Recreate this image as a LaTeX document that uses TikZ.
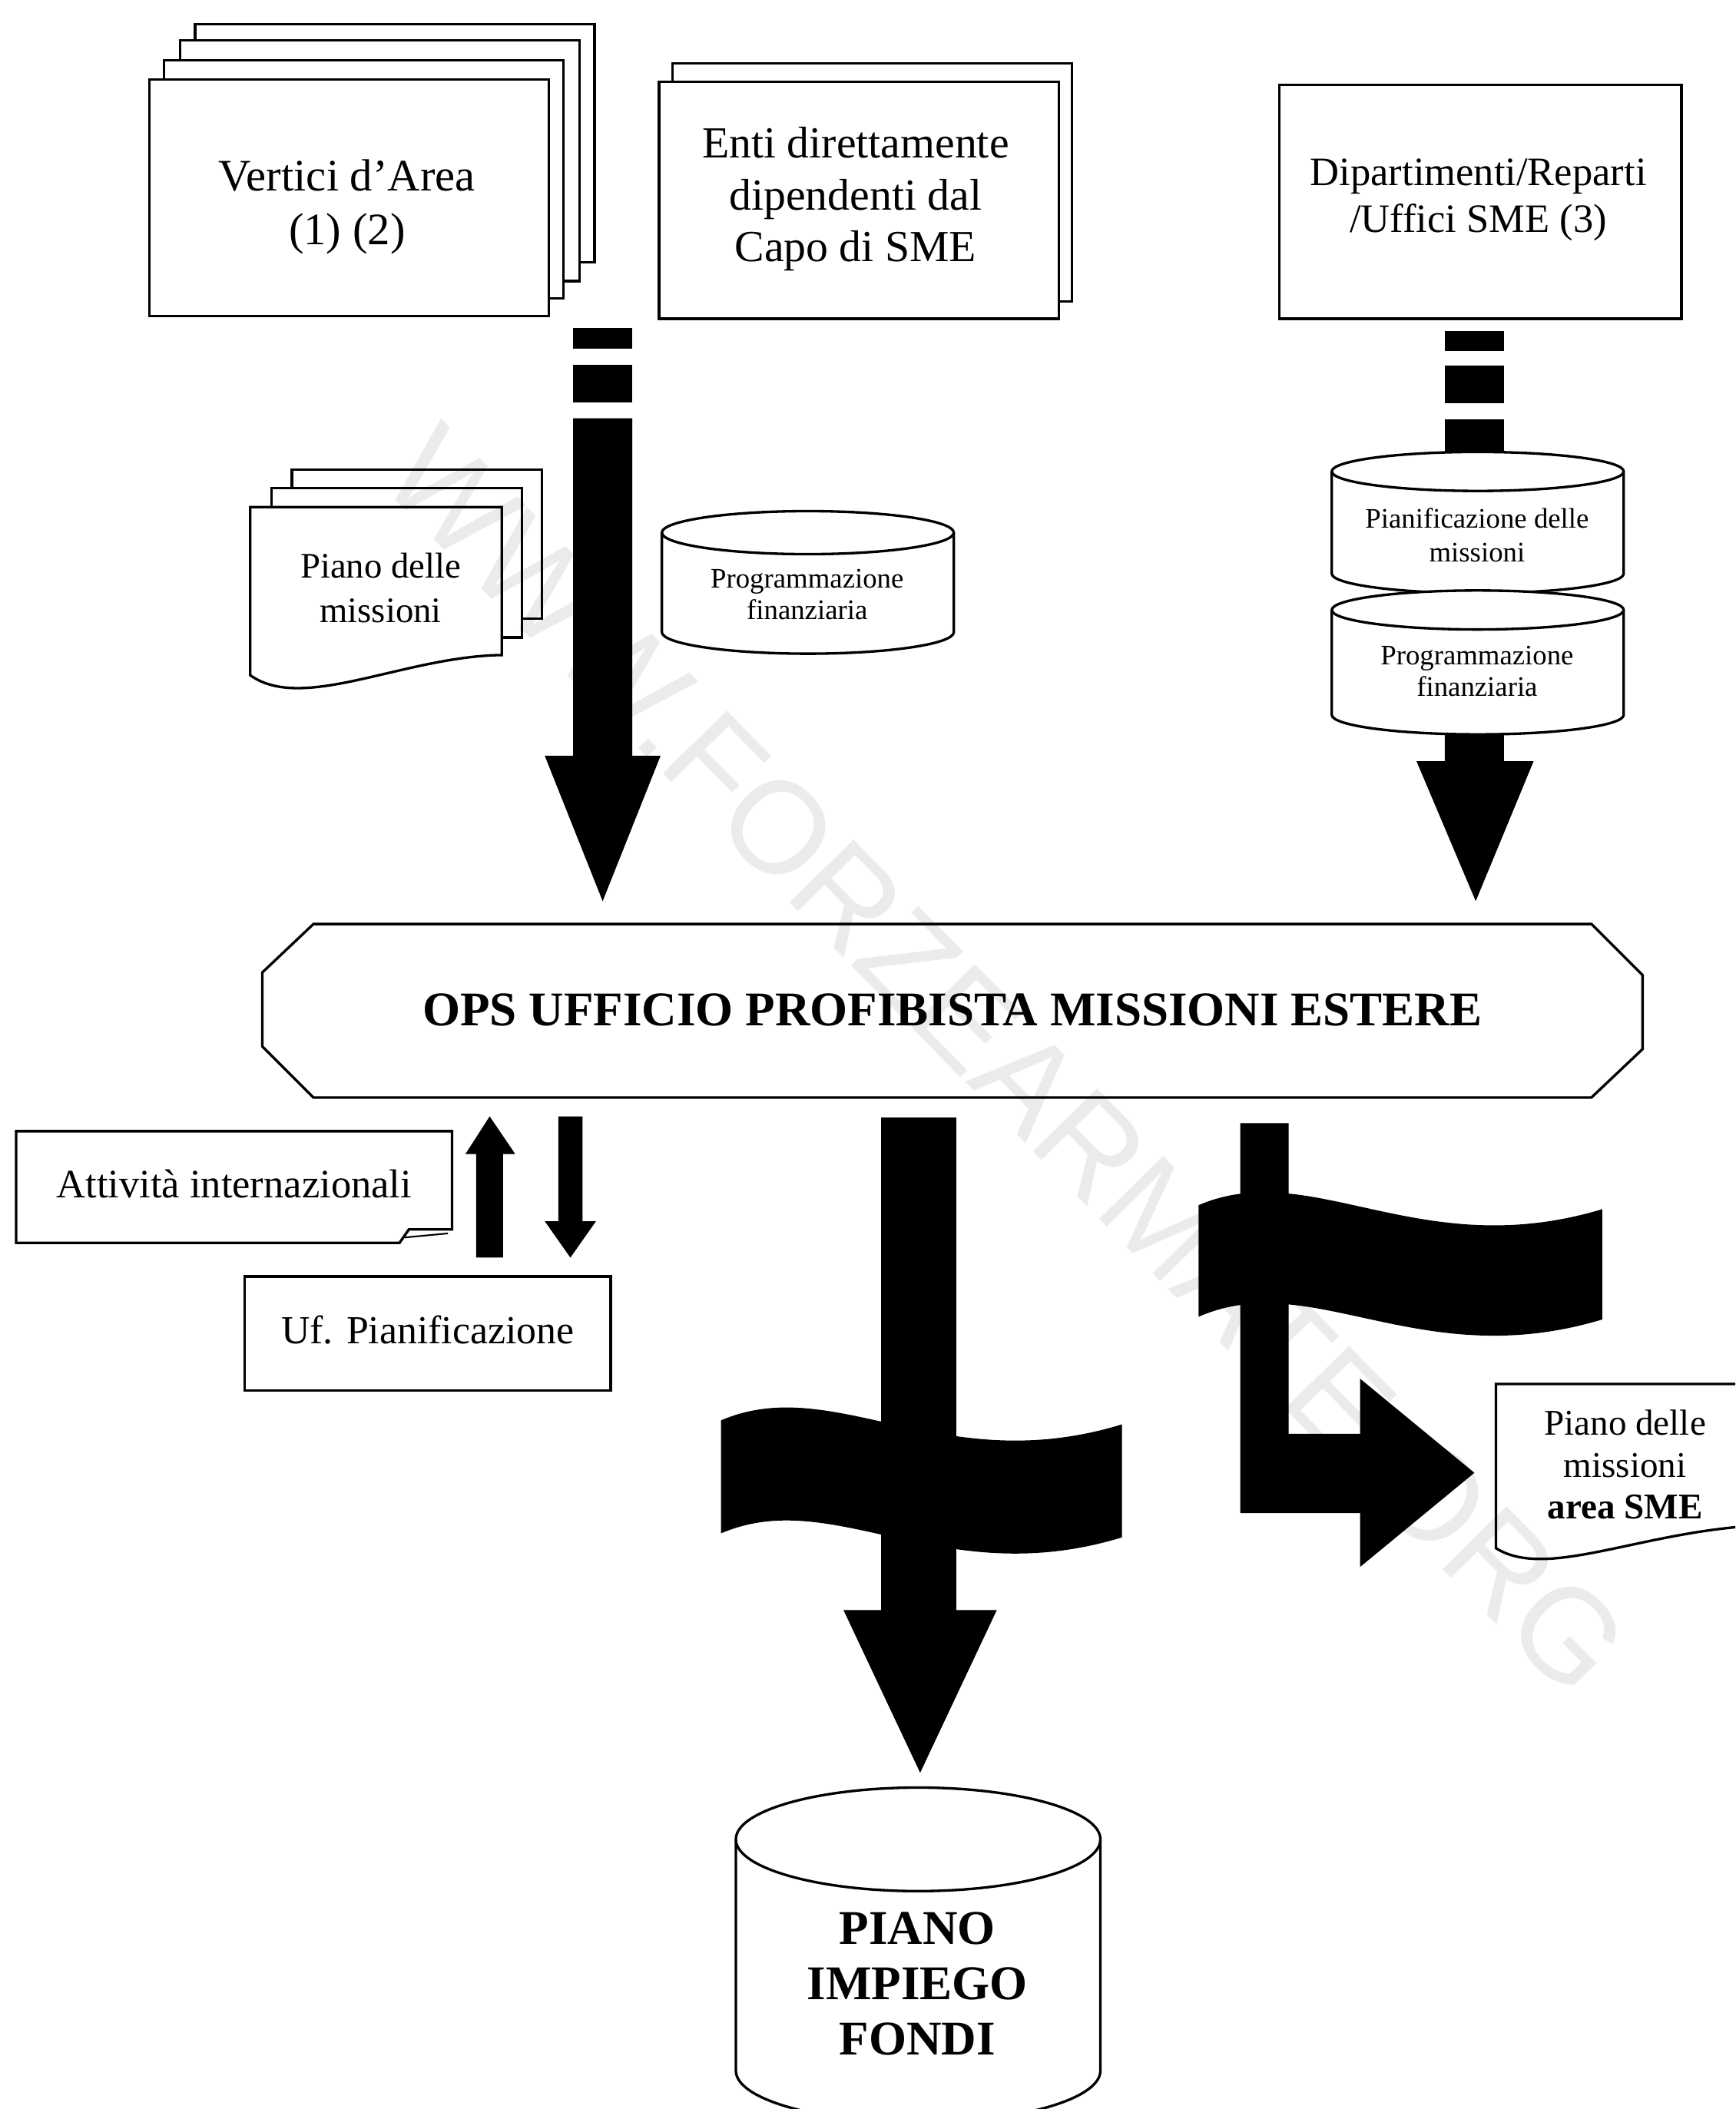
\documentclass[tikz,border=0pt]{standalone}
\usepackage{fontspec}
\setmainfont{Liberation Serif}
\newfontfamily\wmfont{Liberation Sans}
\newcommand\mycyl[5]{%
  \pgfmathsetmacro\cxa{#1}\pgfmathsetmacro\cxb{#2}%
  \pgfmathsetmacro\crx{(#2-#1)/2}\pgfmathsetmacro\cyc{#3+#5}\pgfmathsetmacro\cyb{#4-#5}%
  \draw[fill=white] (\cxa,\cyc) -- (\cxa,\cyb) arc[start angle=180,end angle=0,x radius=\crx,y radius=#5]
     -- (\cxb,\cyc) arc[start angle=0,end angle=-180,x radius=\crx,y radius=#5] -- cycle;
  \draw (\cxa,\cyc) arc[start angle=180,end angle=0,x radius=\crx,y radius=#5];}
\begin{document}
\begin{tikzpicture}[x=1pt,y=-1pt,line width=1.9pt,line join=miter,
  lbl/.style={align=center,inner sep=0pt,text=black},
  boxnode/.style={draw,fill=white,inner sep=0pt,anchor=north west},
  blk/.style={fill=black,draw=none}]
\clip (0,0) rectangle (1290,1568);
\fill[white] (0,0) rectangle (1290,1568);

% ---------- top left stack: Vertici d'Area
\draw[fill=white] (145,18) rectangle (442,195);
\draw[fill=white] (134,30) rectangle (431,209);
\draw[fill=white] (122,45) rectangle (419,222);
\node[boxnode,minimum width=297pt,minimum height=176pt] (vertici) at (110,58) {};
\node[lbl,font=\fontsize{33.5}{40}\selectfont] (verticiT) at (258,154) {Vertici d’Area\\(1) (2)};

% ---------- Enti
\draw[fill=white] (500,47) rectangle (797,224);
\node[boxnode,minimum width=297pt,minimum height=176pt] (enti) at (489,60) {};
\node[lbl,font=\fontsize{33}{38.5}\selectfont] (entiT) at (636,148) {Enti direttamente\\dipendenti dal\\Capo di SME};

% ---------- Dipartimenti
\node[boxnode,minimum width=299pt,minimum height=174pt] (dip) at (950,62) {};
\node[lbl,font=\fontsize{30}{35}\selectfont] (dipT) at (1099,148.5) {Dipartimenti/Reparti\\/Uffici SME (3)};

% ---------- left big arrow
\fill[blk] (426,244) rectangle (470,259);
\fill[blk] (426,271) rectangle (470,299);
\fill[blk] (426,311) -- (470,311) -- (470,562) -- (491,562) -- (448,670) -- (405,562) -- (426,562) -- cycle;

% ---------- Piano delle missioni (left stack)
\draw[fill=white] (217,349) rectangle (403,460);
\draw[fill=white] (202,363) rectangle (388,474);
\draw[fill=white] (186,377) -- (373,377) -- (373,487) .. controls (300,488) and (225,530) .. (186,502) -- cycle;
\node[lbl,font=\fontsize{26.7}{33}\selectfont] (pianoL) at (283,437) {Piano delle\\missioni};

% ---------- Programmazione finanziaria (middle)
\mycyl{492}{709}{380}{486}{16}
\node[lbl,font=\fontsize{21}{23}\selectfont] (progM) at (600,442) {Programmazione\\finanziaria};

% ---------- right arrow and cylinders
\fill[blk] (1074,246) rectangle (1118,261);
\fill[blk] (1074,272) rectangle (1118,300);
\fill[blk] (1074,312) rectangle (1118,352);
\fill[blk] (1074,530) -- (1118,530) -- (1118,566) -- (1140,566) -- (1097,670) -- (1053,566) -- (1074,566) -- cycle;
\mycyl{990}{1207}{336}{441}{14.5}
\node[lbl,font=\fontsize{21}{25}\selectfont] (pianif) at (1098,398) {Pianificazione delle\\missioni};
\mycyl{990}{1207}{439}{546}{14.5}
\node[lbl,font=\fontsize{21}{23}\selectfont] (progR) at (1098,499) {Programmazione\\finanziaria};

% ---------- OPS
\draw[fill=white] (233,687) -- (1183,687) -- (1221,725) -- (1221,780) -- (1183,816) -- (233,816) -- (195,778) -- (195,723) -- cycle;
\node[lbl,font=\fontsize{36}{40}\selectfont\bfseries] (ops) at (708,751) {OPS UFFICIO PROFIBISTA MISSIONI ESTERE};

% ---------- Attivita internazionali
\draw[fill=white] (12,841) -- (336,841) -- (336,914) -- (304,914) -- (297,924) -- (12,924) -- cycle;
\draw[line width=1.2pt] (301,920) -- (333,917);
\node[lbl,font=\fontsize{30}{34}\selectfont] (attiv) at (174,880) {Attività internazionali};

% up / down arrows
\fill[blk] (354,935) -- (354,858) -- (346,858) -- (364,830) -- (383,858) -- (374,858) -- (374,935) -- cycle;
\fill[blk] (415,830) -- (433,830) -- (433,908) -- (443,908) -- (424,935) -- (405,908) -- (415,908) -- cycle;

% ---------- Uf. Pianificazione
\node[boxnode,minimum width=272pt,minimum height=85pt] (ufpian) at (181,948) {};
\node[lbl,font=\fontsize{29.6}{34}\selectfont] (ufpianT) at (318,989) {Uf. Pianificazione};

% ---------- middle arrow with wavy band
\fill[blk] (655,831) rectangle (711,1200);
\fill[blk] (536,1056) .. controls (620,1020) and (700,1100) .. (834,1059) -- (834,1143) .. controls (700,1184) and (620,1104) .. (536,1140) -- cycle;
\fill[blk] (627,1197) -- (741,1197) -- (684,1318) -- cycle;

% ---------- right bent arrow with wavy band
\fill[blk] (922,835) -- (958,835) -- (958,1066) -- (1011,1066) -- (1011,1025) -- (1096,1095) -- (1011,1165) -- (1011,1125) -- (922,1125) -- cycle;
\fill[blk] (891,896) .. controls (975,860) and (1055,940) .. (1191,899) -- (1191,981) .. controls (1055,1022) and (975,942) .. (891,979) -- cycle;

% ---------- Piano delle missioni area SME
\draw[fill=white] (1112,1029) -- (1310,1029) -- (1310,1134) .. controls (1220,1138) and (1150,1175) .. (1112,1151) -- cycle;
\node[lbl,font=\fontsize{26.9}{31}\selectfont] (pianoR) at (1208,1089) {Piano delle\\missioni\\\textbf{area SME}};

% ---------- PIANO IMPIEGO FONDI
\mycyl{547}{818}{1329}{1578}{38.5}
\node[lbl,font=\fontsize{36}{41}\selectfont\bfseries] (pif) at (682,1475) {PIANO\\IMPIEGO\\FONDI};

% ---------- watermark
\node[lbl,text opacity=0.08,font=\wmfont\fontsize{97}{97}\selectfont,rotate=-45.6] (wm) at (748,788) {WWW.FORZEARMATE.ORG};
\end{tikzpicture}
\end{document}
